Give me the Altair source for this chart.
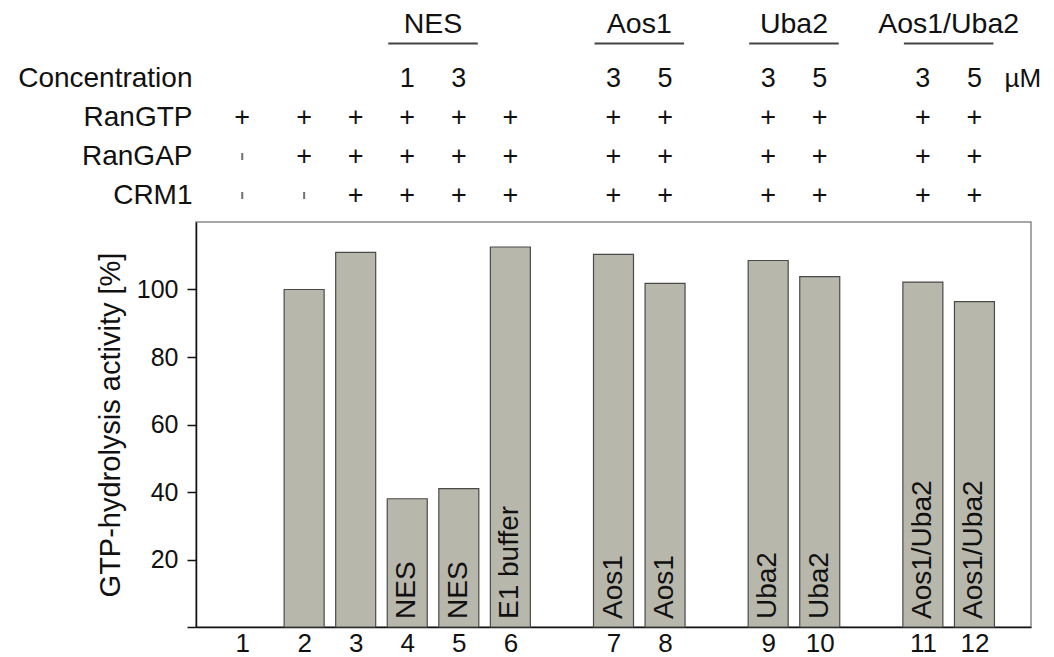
import altair as alt
import pandas as pd

# ---- data ----
lanes = ["1", "2", "3", "4", "5", "6", "7", "8", "9", "10", "11", "12"]
lane_pos = [0.8, 2, 3, 4, 5, 6, 8, 9, 11, 12, 14, 15]
activity = [None, 100, 111, 38, 41, 112.6, 110.4, 101.8, 108.6, 103.8, 102.2, 96.4]
bar_label = ["", "", "", "NES", "NES", "E1 buffer", "Aos1", "Aos1", "Uba2", "Uba2",
             "Aos1/Uba2", "Aos1/Uba2"]
concentration = ["", "", "", "1", "3", "", "3", "5", "3", "5", "3", "5"]
ran_gtp = ["+", "+", "+", "+", "+", "+", "+", "+", "+", "+", "+", "+"]
ran_gap = ["-", "+", "+", "+", "+", "+", "+", "+", "+", "+", "+", "+"]
crm1 = ["-", "-", "+", "+", "+", "+", "+", "+", "+", "+", "+", "+"]
groups = ["NES", "Aos1", "Uba2", "Aos1/Uba2"]
group_first = ["4", "7", "9", "11"]
group_last = ["5", "8", "10", "12"]
unit = "µM"
row_names = ["grp", "Concentration", "RanGTP", "RanGAP", "CRM1"]
y_ticks = [0, 20, 40, 60, 80, 100]

FONT = "Liberation Sans"
W = 835
pos_of = dict(zip(lanes, lane_pos))

bars = pd.DataFrame({"lane": lanes, "pos": lane_pos, "activity": activity, "label": bar_label})

hdr_rows = []
for i, lane in enumerate(lanes):
    hdr_rows.append({"pos": lane_pos[i], "row": "Concentration", "sym": concentration[i]})
    for rname, arr in [("RanGTP", ran_gtp), ("RanGAP", ran_gap), ("CRM1", crm1)]:
        hdr_rows.append({"pos": lane_pos[i], "row": rname, "sym": arr[i]})
hdr = pd.DataFrame(hdr_rows)

grp = pd.DataFrame({
    "name": groups,
    "x1": [pos_of[a] for a in group_first],
    "x2": [pos_of[b] for b in group_last],
})
grp["mid"] = (grp["x1"] + grp["x2"]) / 2
grp["row"] = "grp"

unit_df = pd.DataFrame({"pos": [pos_of[lanes[-1]]], "row": ["Concentration"], "sym": [unit]})

xscale = alt.Scale(domain=[0, 16], nice=False, zero=False)
yrow = alt.Y("row:N", scale=alt.Scale(domain=row_names, paddingInner=0, paddingOuter=0),
             axis=alt.Axis(title=None, domain=False, ticks=False, labelFontSize=28,
                           labelPadding=4, labelColor="#111", labelFont=FONT,
                           labelExpr="datum.value == 'grp' ? '' : datum.label"))

plus_text = alt.Chart(hdr).transform_filter(
    "datum.sym != '-' && datum.sym != ''"
).mark_text(fontSize=27, font=FONT, color="#111").encode(
    x=alt.X("pos:Q", scale=xscale, axis=None),
    y=yrow,
    text="sym:N",
)
minus_tick = alt.Chart(hdr).transform_filter("datum.sym == '-'").mark_tick(
    orient="vertical", size=7, thickness=2, color="#333"
).encode(x=alt.X("pos:Q", scale=xscale, axis=None), y=yrow)

unit_text = alt.Chart(unit_df).mark_text(
    fontSize=26, font=FONT, color="#111", align="left", dx=30
).encode(x=alt.X("pos:Q", scale=xscale, axis=None), y=yrow, text="sym:N")

grp_text = alt.Chart(grp).mark_text(fontSize=28.5, font=FONT, color="#111", dy=-16).encode(
    x=alt.X("mid:Q", scale=xscale, axis=None), y=yrow, text="name:N")
grp_rule = alt.Chart(grp).mark_rule(
    color="#444", strokeWidth=2, yOffset=4, xOffset=-19, x2Offset=19
).encode(x=alt.X("x1:Q", scale=xscale, axis=None), x2="x2:Q", y=yrow)

header = alt.layer(grp_text, grp_rule, plus_text, minus_tick, unit_text).properties(
    width=W, height=195, view=alt.ViewBackground(stroke="transparent"))

label_expr = ("[" + ",".join(f"'{l}'" for l in lanes) + "][indexof(["
              + ",".join(str(p) for p in lane_pos) + "], datum.value)]")

xq = alt.X("pos:Q", scale=xscale,
           axis=alt.Axis(values=lane_pos, labelExpr=label_expr, ticks=False, grid=False,
                         title=None, domainColor="#111", domainWidth=1.5,
                         labelFontSize=26, labelFont=FONT, labelColor="#111",
                         labelPadding=3, labelFlush=False, labelOverlap=False))
yq = alt.Y("activity:Q", scale=alt.Scale(domain=[0, 120], nice=False),
           axis=alt.Axis(values=y_ticks, labelExpr="datum.value == 0 ? '' : datum.label",
                         grid=False, tickSize=9, tickColor="#111", tickWidth=1.5,
                         domainColor="#111", domainWidth=1.5,
                         labelFontSize=25, labelFont=FONT, labelColor="#111", labelPadding=9,
                         title="GTP-hydrolysis activity [%]", titleFontSize=29,
                         titleFont=FONT, titleFontWeight="normal", titleColor="#111",
                         titlePadding=11))

bar_marks = alt.Chart(bars).transform_filter("isValid(datum.activity)").mark_bar(
    size=40, color="#b8b7ab", stroke="#4a4a4a", strokeWidth=1.2
).encode(x=xq, y=yq)

bar_text = alt.Chart(bars).transform_filter("datum.label != ''").mark_text(
    angle=270, align="left", baseline="middle", dx=8, fontSize=28, font=FONT, color="#111"
).encode(x=alt.X("pos:Q", scale=xscale), y=alt.datum(0), text="label:N")

plot = alt.layer(bar_marks, bar_text).properties(
    width=W, height=405,
    view=alt.ViewBackground(stroke="#8a8a8a", strokeWidth=1.5))

chart = alt.vconcat(header, plot, spacing=5).resolve_scale(
    x="shared", y="independent"
).properties(
    padding={"left": 9, "top": 1, "right": 0, "bottom": 0}
).configure(font=FONT)

chart.save("out.html", embed_options={"renderer": "svg", "actions": False})
